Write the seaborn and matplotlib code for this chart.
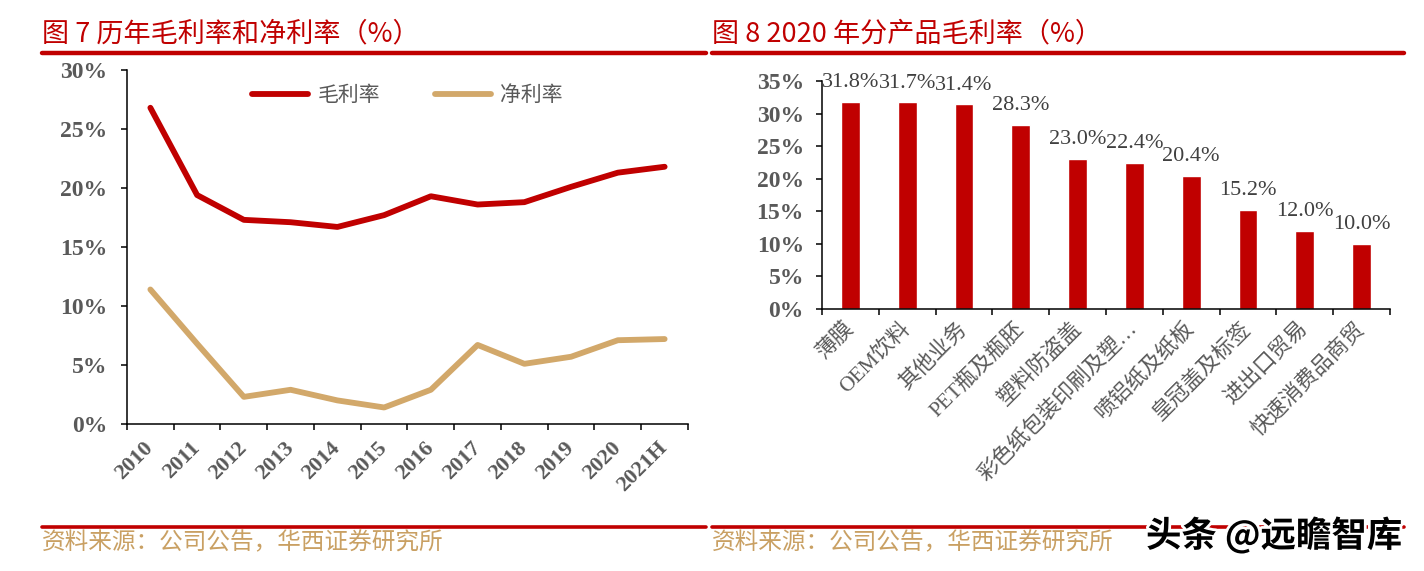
import numpy as np
import pandas as pd
import matplotlib
matplotlib.use("Agg")
import matplotlib.pyplot as plt
import matplotlib.patheffects as pe
from matplotlib.lines import Line2D
import seaborn as sns

# data
years = ["2010", "2011", "2012", "2013", "2014", "2015", "2016", "2017",
         "2018", "2019", "2020", "2021H"]
gross_margin = [26.8, 19.4, 17.3, 17.1, 16.7, 17.7, 19.3, 18.6, 18.8, 20.1, 21.3, 21.8]
net_margin = [11.4, 6.8, 2.3, 2.9, 2.0, 1.4, 2.9, 6.7, 5.1, 5.7, 7.1, 7.2]

products = ["薄膜", "OEM饮料", "其他业务", "PET瓶及瓶胚", "塑料防盗盖",
            "彩色纸包装印刷及塑…", "喷铝纸及纸板", "皇冠盖及标签", "进出口贸易",
            "快速消费品商贸"]
product_margin = [31.8, 31.7, 31.4, 28.3, 23.0, 22.4, 20.4, 15.2, 12.0, 10.0]

RED = "#C00000"
TAN = "#D2A86A"
GRAY = "#595959"
SRC = "#C9A063"

sns.set_theme(style="white")
plt.rcParams["font.family"] = ["Liberation Serif", "Noto Sans CJK SC", "DejaVu Sans"]
plt.rcParams["axes.edgecolor"] = "black"
plt.rcParams["axes.linewidth"] = 1.1

fig = plt.figure(figsize=(14.24, 5.71), dpi=100)
ax1 = fig.add_axes([127 / 1424, 1 - 424 / 571, (688 - 127) / 1424, 354 / 571])
ax2 = fig.add_axes([822 / 1424, 1 - 309 / 571, (1390 - 822) / 1424, (309 - 81) / 571])

# left chart: lines
df = pd.DataFrame({"idx": list(range(len(years))) * 2,
                   "value": gross_margin + net_margin,
                   "series": ["毛利率"] * len(years) + ["净利率"] * len(years)})
sns.lineplot(data=df, x="idx", y="value", hue="series",
             palette={"毛利率": RED, "净利率": TAN}, linewidth=4.2,
             ax=ax1, legend=False, solid_capstyle="round", solid_joinstyle="round")
ax1.set_xlim(-0.5, len(years) - 0.5)
ax1.set_ylim(0, 30)
ax1.set_yticks(range(0, 31, 5))
ax1.set_yticklabels([f"{v}%" for v in range(0, 31, 5)], fontweight="bold",
                    color=GRAY, fontsize=17, family=["Liberation Serif"])
ax1.set_xticks(np.arange(-0.5, len(years)))
ax1.set_xticklabels([])
ax1.set_xticks(range(len(years)), minor=True)
ax1.set_xticklabels(years, minor=True, rotation=45, ha="right", va="center",
                    rotation_mode="anchor", fontweight="bold", color=GRAY,
                    fontsize=16, family=["Liberation Serif"])
ax1.tick_params(axis="x", which="minor", length=0, pad=15)
ax1.tick_params(axis="both", which="major", length=4, width=1.1, color="black",
                direction="out", left=True, bottom=True)
ax1.tick_params(axis="y", which="major", pad=10)
ax1.set_xlabel("")
ax1.set_ylabel("")
for s in ["top", "right"]:
    ax1.spines[s].set_visible(False)

handles = [Line2D([], [], color=RED, lw=4.2, solid_capstyle="round"),
           Line2D([], [], color=TAN, lw=4.2, solid_capstyle="round")]
leg = ax1.legend(handles, ["毛利率", "净利率"], loc="center",
                 bbox_to_anchor=(0.5, (424 - 95) / 354), ncol=2, frameon=False,
                 handlelength=2.7, columnspacing=2.6, handletextpad=0.45,
                 prop={"family": ["Noto Sans CJK SC"], "size": 15})
for t in leg.get_texts():
    t.set_color(GRAY)

# right chart: bars
bdf = pd.DataFrame({"product": products, "margin": product_margin})
sns.barplot(data=bdf, x="product", y="margin", color=RED, saturation=1,
            width=0.33, ax=ax2)
ax2.set_xlim(-0.5, len(products) - 0.5)
ax2.set_ylim(0, 35)
ax2.set_yticks(range(0, 36, 5))
ax2.set_yticklabels([f"{v}%" for v in range(0, 36, 5)], fontweight="bold",
                    color=GRAY, fontsize=17, family=["Liberation Serif"])
ax2.set_xticks(np.arange(-0.5, len(products)))
ax2.set_xticklabels([])
ax2.set_xticks(range(len(products)), minor=True)
ax2.set_xticklabels(products, minor=True, rotation=45, ha="right", va="center",
                    rotation_mode="anchor", color=GRAY, fontsize=15.5,
                    family=["Liberation Serif", "Noto Sans CJK SC"])
ax2.tick_params(axis="x", which="minor", length=0, pad=12)
ax2.tick_params(axis="both", which="major", length=4, width=1.1, color="black",
                direction="out", left=True, bottom=True)
ax2.tick_params(axis="y", which="major", pad=9)
ax2.set_xlabel("")
ax2.set_ylabel("")
for s in ["top", "right"]:
    ax2.spines[s].set_visible(False)
ax2.bar_label(ax2.containers[0], labels=[f"{v:.1f}%" for v in product_margin],
              padding=7, fontsize=16, color="#404040", family=["Liberation Serif"])

# titles, rules and sources
cjk = ["Noto Sans CJK SC", "DejaVu Sans"]
fig.text(42 / 1424, 1 - 34 / 571, "图 7 历年毛利率和净利率（%）", color=RED,
         fontsize=19.5, family=cjk, va="center", ha="left")
fig.text(712 / 1424, 1 - 34 / 571, "图 8 2020 年分产品毛利率（%）", color=RED,
         fontsize=19.5, family=cjk, va="center", ha="left")
for x0, x1 in [(42, 706), (712, 1404)]:
    fig.add_artist(Line2D([x0 / 1424, x1 / 1424], [1 - 53 / 571] * 2, color=RED, lw=3.2))
    fig.add_artist(Line2D([x0 / 1424, x1 / 1424], [1 - 527 / 571] * 2, color=RED, lw=2.6))
for x0 in [42, 712]:
    fig.text(x0 / 1424, 1 - 543 / 571, "资料来源：公司公告，华西证券研究所", color=SRC,
             fontsize=17, family=cjk, va="center", ha="left")

fig.text(1146 / 1424, 1 - 535 / 571, "头条 @远瞻智库", color="black", fontsize=25.5,
         fontweight="bold", family=cjk, va="center", ha="left",
         path_effects=[pe.withStroke(linewidth=4, foreground="white")])

fig.savefig("out.png", dpi=100)
